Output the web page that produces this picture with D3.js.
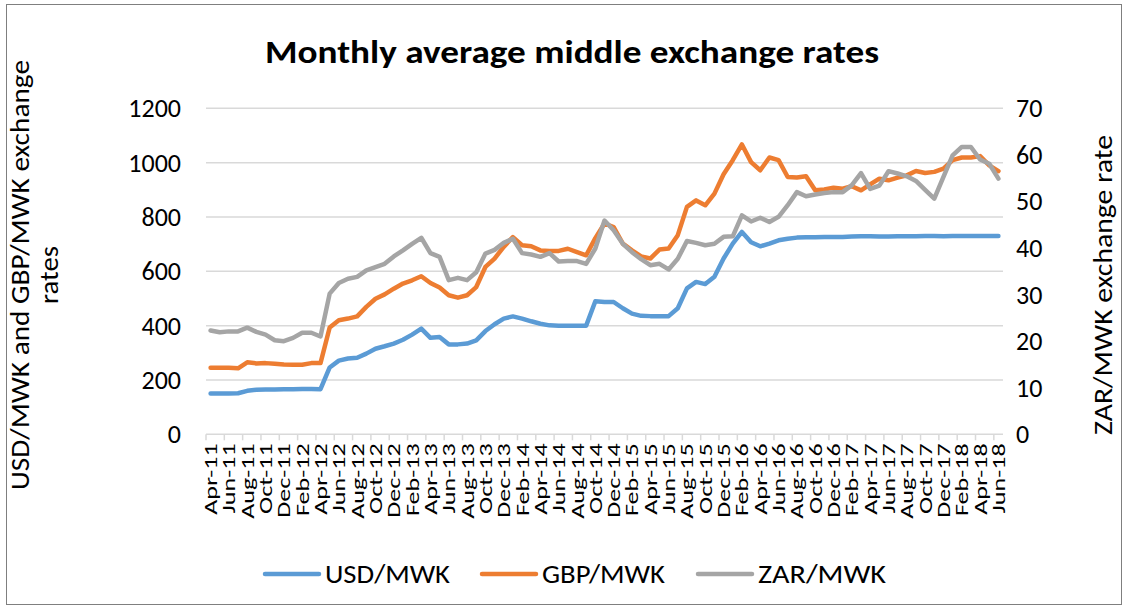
<!DOCTYPE html>
<html><head><meta charset="utf-8">
<script src="https://cdn.jsdelivr.net/npm/d3@7"></script>
<style>
html,body{margin:0;padding:0;background:#fff;}
svg text{font-family:Carlito,Calibri,Lato,"Open Sans",sans-serif;fill:#000;}
</style></head>
<body><svg id="c" width="1128" height="609"></svg>
<script>
const monthNames = ["Jan","Feb","Mar","Apr","May","Jun","Jul","Aug","Sep","Oct","Nov","Dec"];
// Categories Apr-11 .. Jun-18 (87 months)
const categories = [];
for (let y = 2011, m = 3; y < 2018 || (y === 2018 && m <= 5); ) {
  categories.push(monthNames[m] + "-" + String(y).slice(2));
  m++; if (m > 11) { m = 0; y++; }
}
const usdMwk = [150,150,150,151,160,164,165,165,166,166,167,167,166,246,271,279,282,297,315,324,334,348,367,389,355,358,331,331,334,346,
  380,405,426,434,426,416,407,401,400,400,400,400,490,487,487,464,444,436,435,435,435,464,537,561,553,580,647,702,745,707,692,702,714,720,
  724,725,725,726,726,726,728,729,729,728,728,729,729,729,730,730,729,730,730,730,730,730,730];
const gbpMwk = [245,245,245,243,265,261,262,260,257,256,256,262,262,393,420,426,434,469,499,515,536,555,567,582,557,540,512,503,512,542,
  616,647,690,726,696,692,677,675,675,683,671,659,722,776,763,702,677,655,647,680,684,733,837,861,843,886,957,1009,1067,1002,972,1019,1009,947,
  945,950,898,901,908,904,913,898,920,941,935,945,953,969,962,966,978,1009,1019,1019,1024,990,969];
const zarMwk = [22.3,21.9,22.1,22.1,22.9,22.0,21.4,20.2,20.0,20.7,21.8,21.8,21.0,30.2,32.5,33.4,33.8,35.2,35.9,36.6,38.2,39.5,40.9,42.2,38.9,38.1,33.1,33.6,33.1,34.8,
  38.8,39.6,41.1,42.0,38.9,38.6,38.1,38.9,37.1,37.2,37.2,36.6,39.9,45.9,43.8,40.9,39.1,37.6,36.3,36.6,35.4,37.7,41.5,41.1,40.6,40.9,42.4,42.5,47.0,45.7,
  46.5,45.6,46.7,49.2,52.0,51.1,51.5,51.8,52.0,52.0,53.5,56.1,52.7,53.4,56.5,56.0,55.4,54.4,52.5,50.6,55.3,59.9,61.7,61.7,59.0,58.1,54.9];
const leftTicks = [0,200,400,600,800,1000,1200];
const rightTicks = [0,10,20,30,40,50,60,70];
const seriesNames = ["USD/MWK","GBP/MWK","ZAR/MWK"];
const seriesColors = ["#5B9BD5","#ED7D31","#A5A5A5"];

const svg = d3.select("#c");
const L = 206, R = 1003, T = 108.3, B = 434.3;
const x = d3.scaleBand().domain(categories).range([L, R]).padding(0);
const yL = d3.scaleLinear().domain([0,1200]).range([B, T]);
const yR = d3.scaleLinear().domain([0,70]).range([B, T]);

// border
svg.append("rect").attr("x",6.5).attr("y",4.5).attr("width",1115).attr("height",600)
  .attr("fill","none").attr("stroke","#7f7f7f").attr("stroke-width",1);

// gridlines
svg.append("g").selectAll("line").data(leftTicks.filter(d=>d>0)).join("line")
  .attr("x1",L).attr("x2",R).attr("y1",d=>yL(d)).attr("y2",d=>yL(d))
  .attr("stroke","#d9d9d9").attr("stroke-width",1.5);

// x axis line and ticks
svg.append("line").attr("x1",L).attr("x2",R).attr("y1",B).attr("y2",B).attr("stroke","#d9d9d9").attr("stroke-width",1.5);
const tickIdx = d3.range(0, categories.length + 1, 2);
svg.append("g").selectAll("line").data(tickIdx).join("line")
  .attr("x1",i=> i < categories.length ? x(categories[i]) : R)
  .attr("x2",i=> i < categories.length ? x(categories[i]) : R)
  .attr("y1",B).attr("y2",B+6).attr("stroke","#d9d9d9").attr("stroke-width",1.5);

// x labels
svg.append("g").selectAll("text").data(categories.filter((d,i)=>i%2===0)).join("text")
  .attr("transform",d=>`translate(${x(d)+x.bandwidth()/2+6.5},${B+9}) rotate(-90) scale(1.45,1)`)
  .attr("text-anchor","end").style("font-size","18px").text(d=>d);

// left ticks
svg.append("g").selectAll("text").data(leftTicks).join("text")
  .attr("x",181).attr("y",d=>yL(d)+9).attr("text-anchor","end").style("font-size","26px").text(d=>d);
// right ticks
svg.append("g").selectAll("text").data(rightTicks).join("text")
  .attr("x",1016).attr("y",d=>yR(d)+9).attr("text-anchor","start").style("font-size","26px").text(d=>d);

// lines
const cx = i => x(categories[i]) + x.bandwidth()/2;
const datasets = [
  {vals: usdMwk, y: yL}, {vals: gbpMwk, y: yL}, {vals: zarMwk, y: yR}
];
datasets.forEach((ds, k) => {
  const line = d3.line().x((d,i)=>cx(i)).y(d=>ds.y(d));
  svg.append("path").datum(ds.vals).attr("d", line).attr("fill","none")
    .attr("stroke", seriesColors[k]).attr("stroke-width",4.5)
    .attr("stroke-linejoin","round").attr("stroke-linecap","round");
});

// title
svg.append("text").attr("x",572).attr("y",63).attr("text-anchor","middle")
  .style("font-size","32px").style("font-weight","bold")
  .attr("textLength",614).attr("lengthAdjust","spacingAndGlyphs")
  .text("Monthly average middle exchange rates");

// left axis title
const lt = svg.append("text").attr("transform","translate(0,275) rotate(-90)")
  .attr("text-anchor","middle").style("font-size","26px");
lt.append("tspan").attr("x",0).attr("y",29).attr("textLength",430).attr("lengthAdjust","spacingAndGlyphs")
  .text("USD/MWK and GBP/MWK exchange");
lt.append("tspan").attr("x",0).attr("y",58).attr("textLength",58).attr("lengthAdjust","spacingAndGlyphs").text("rates");
// right axis title
svg.append("text").attr("transform","translate(1112,285) rotate(-90)")
  .attr("text-anchor","middle").style("font-size","26px")
  .attr("textLength",300).attr("lengthAdjust","spacingAndGlyphs").text("ZAR/MWK exchange rate");

// legend
const legX = [265, 482, 698];
const legW = [125, 123, 128];
const lg = svg.append("g").selectAll("g").data(seriesNames).join("g")
  .attr("transform",(d,i)=>`translate(${legX[i]},574)`);
lg.append("line").attr("x1",0).attr("x2",54).attr("y1",0).attr("y2",0)
  .attr("stroke",(d,i)=>seriesColors[i]).attr("stroke-width",4.5).attr("stroke-linecap","round");
lg.append("text").attr("x",60).attr("y",9).style("font-size","27px")
  .attr("textLength",(d,i)=>legW[i]).attr("lengthAdjust","spacingAndGlyphs").text(d=>d);
</script></body></html>
